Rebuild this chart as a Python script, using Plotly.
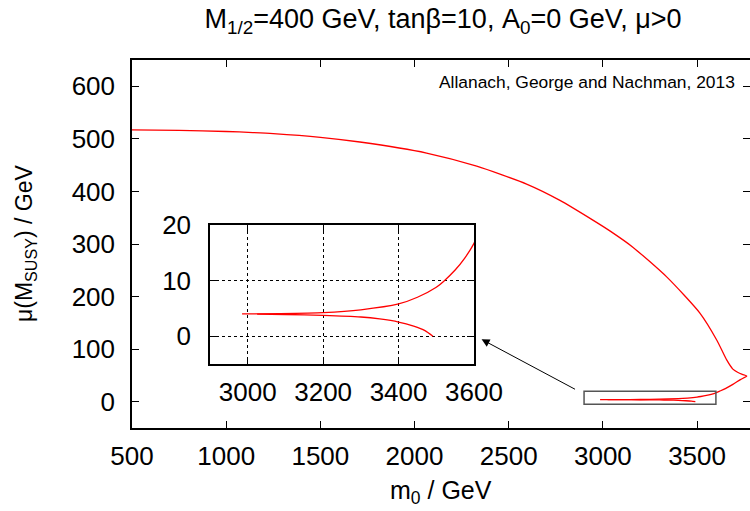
import plotly.graph_objects as go

# Main branch: m0 (GeV) vs mu(M_SUSY) (GeV), continuing around the fold to low mu
m0_main = [500, 750, 1000, 1142, 1250, 1500, 1710, 2064, 2330, 2595, 2772, 2949, 3037,
           3159, 3340, 3515, 3605, 3658, 3690, 3715, 3740, 3764,
           3730, 3690, 3650, 3620, 3600, 3575, 3550, 3520, 3500, 3450, 3400, 3300, 3200, 3086, 2985]
mu_main = [517, 516, 514, 512, 510, 503, 494, 473, 448, 414, 383, 345, 325,
           294, 237, 168.6, 117, 79, 62, 56, 52, 49,
           42, 33, 25, 20, 16.7, 14.0, 11.9, 9.9, 8.8, 7.0, 5.8, 4.75, 4.25, 4.07, 4.0]

# Lower branch
m0_low = [3025, 3100, 3200, 3300, 3350, 3400, 3440, 3470, 3491]
mu_low = [3.97, 3.9, 3.75, 3.45, 3.1, 2.55, 1.8, 1.0, 0.0]

main_x_ticks = [500, 1000, 1500, 2000, 2500, 3000, 3500]
main_y_ticks = [0, 100, 200, 300, 400, 500, 600]
inset_x_ticks = [3000, 3200, 3400, 3600]
inset_y_ticks = [0, 10, 20]

FONT = "Liberation Sans"
RED = "#ff0000"

fig = go.Figure()
for xa, ya in [("x", "y"), ("x2", "y2")]:
    fig.add_trace(go.Scatter(x=m0_main, y=mu_main, mode="lines", xaxis=xa, yaxis=ya,
                             line=dict(color=RED, width=1.3, shape="spline", smoothing=0.6),
                             showlegend=False, hoverinfo="skip"))
    fig.add_trace(go.Scatter(x=m0_low, y=mu_low, mode="lines", xaxis=xa, yaxis=ya,
                             line=dict(color=RED, width=1.3, shape="spline", smoothing=0.6),
                             showlegend=False, hoverinfo="skip"))
# carrier for right-side tick marks
fig.add_trace(go.Scatter(x=[], y=[], xaxis="x", yaxis="y3", showlegend=False))

common = dict(ticks="inside", ticklen=7, tickwidth=1, tickcolor="black",
              zeroline=False, automargin=False)

fig.update_layout(
    width=750, height=511, autosize=False,
    margin=dict(l=132, r=0, t=60, b=83, pad=0),
    paper_bgcolor="white", plot_bgcolor="white",
    font=dict(family=FONT, size=26, color="black"),
    title=dict(text="M<sub>1/2</sub>=400 GeV, tanβ=10, A<sub>0</sub>=0 GeV, μ>0",
               x=443 / 750, xanchor="center", y=(511 - 19) / 511, yanchor="middle",
               font=dict(size=27)),
    xaxis=dict(domain=[0, 1], range=[500, 3781], tickvals=main_x_ticks,
               showline=True, linecolor="black", linewidth=1.5,
               mirror="ticks", showgrid=False, ticklabelstandoff=4, **common),
    yaxis=dict(domain=[0, 1], range=[-50, 650], tickvals=main_y_ticks,
               showline=True, linecolor="black", linewidth=1.5,
               mirror=False, showgrid=False, ticklabelstandoff=10, **common),
    yaxis3=dict(range=[-50, 650], tickvals=main_y_ticks, overlaying="y", side="right",
                anchor="x", showline=False, showticklabels=False, showgrid=False, **common),
    xaxis2=dict(domain=[(210 - 132) / 618, (474 - 132) / 618], anchor="y2",
                range=[2900, 3600], tickvals=inset_x_ticks,
                showline=True, linecolor="black", linewidth=1.5,
                mirror="ticks", showgrid=True, gridcolor="black", griddash="dot", gridwidth=1,
                ticklabelstandoff=4, **common),
    yaxis2=dict(domain=[(428 - 364) / 368, (428 - 225) / 368], anchor="x2",
                range=[-5, 20], tickvals=inset_y_ticks,
                showline=True, linecolor="black", linewidth=1.5,
                mirror="ticks", showgrid=True, gridcolor="black", griddash="dot", gridwidth=1,
                ticklabelstandoff=12, **common),
    shapes=[dict(type="rect", xref="x", yref="y", x0=2900, x1=3600, y0=-5, y1=20,
                 line=dict(color="#555555", width=1.5), fillcolor="rgba(0,0,0,0)", layer="above")],
    annotations=[
        dict(text="Allanach, George and Nachman, 2013", xref="paper", yref="paper",
             x=(737 - 132) / 618, y=(428 - 82) / 368, xanchor="right", yanchor="middle",
             showarrow=False, font=dict(size=17.4)),
        dict(text="m<sub>0</sub> / GeV", xref="paper", yref="paper",
             x=(441 - 132) / 618, y=(428 - 492) / 368, xanchor="center", yanchor="middle",
             showarrow=False, font=dict(size=25)),
        dict(text="μ(M<sub>SUSY</sub>) / GeV", xref="paper", yref="paper",
             x=(25 - 132) / 618, y=(428 - 244) / 368, xanchor="center", yanchor="middle",
             textangle=-90, showarrow=False, font=dict(size=23)),
        dict(text="", xref="x", yref="y", axref="x", ayref="y",
             x=2356, y=118.6, ax=2860, ay=22.2, showarrow=True,
             arrowhead=2, arrowsize=1.6, arrowwidth=1, arrowcolor="black"),
    ],
)

fig.write_html("out.html")
